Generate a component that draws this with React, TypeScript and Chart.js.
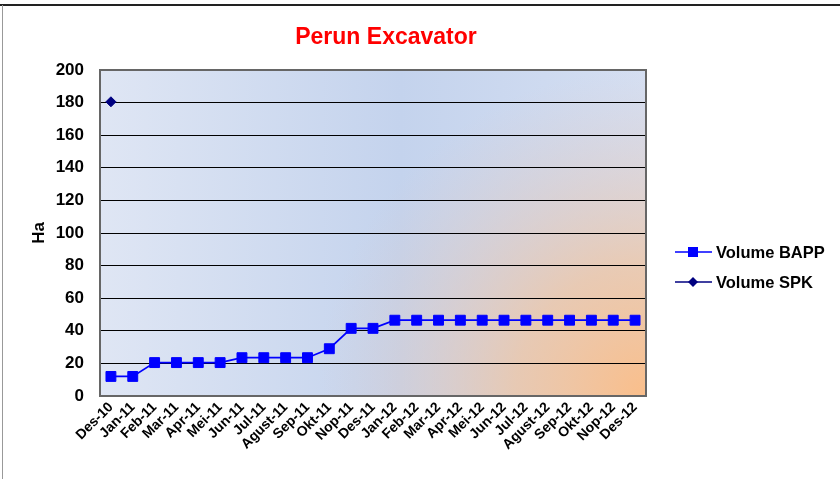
import React, { useEffect, useRef } from "react";
import { Chart, registerables } from "chart.js";

Chart.register(...registerables);

const categories = [
  "Des-10", "Jan-11", "Feb-11", "Mar-11", "Apr-11", "Mei-11", "Jun-11", "Jul-11",
  "Agust-11", "Sep-11", "Okt-11", "Nop-11", "Des-11", "Jan-12", "Feb-12", "Mar-12",
  "Apr-12", "Mei-12", "Jun-12", "Jul-12", "Agust-12", "Sep-12", "Okt-12", "Nop-12", "Des-12",
];

const volumeBAPP = [
  12, 12, 20.5, 20.5, 20.5, 20.5, 23.5, 23.5, 23.5, 23.5, 29, 41.5, 41.5,
  46.5, 46.5, 46.5, 46.5, 46.5, 46.5, 46.5, 46.5, 46.5, 46.5, 46.5, 46.5,
];

const volumeSPK: (number | null)[] = [
  180.5, null, null, null, null, null, null, null, null, null, null, null, null,
  null, null, null, null, null, null, null, null, null, null, null, null,
];

const yTicks = { min: 0, max: 200, step: 20 };
const chartTitle = "Perun Excavator";
const yTitle = "Ha";
const FONT = "'Liberation Sans', Arial, sans-serif";

const decorPlugin = {
  id: "decor",
  beforeDraw(chart: any) {
    const { ctx, chartArea: a } = chart;
    ctx.save();
    ctx.strokeStyle = "#222";
    ctx.lineWidth = 2;
    ctx.beginPath();
    ctx.moveTo(0, 5);
    ctx.lineTo(chart.width, 5);
    ctx.stroke();
    ctx.strokeStyle = "#999";
    ctx.lineWidth = 1;
    ctx.beginPath();
    ctx.moveTo(2.5, 5);
    ctx.lineTo(2.5, chart.height);
    ctx.stroke();
    const w = a.right - a.left;
    const h = a.bottom - a.top;
    const lg = ctx.createLinearGradient(a.left, a.top, a.right, a.top);
    lg.addColorStop(0, "#dfe6f4");
    lg.addColorStop(0.55, "#c4d3ed");
    lg.addColorStop(1, "#d5dff2");
    ctx.fillStyle = lg;
    ctx.fillRect(a.left, a.top, w, h);
    const rg = ctx.createRadialGradient(a.right, a.bottom, 0, a.right, a.bottom, w * 0.6);
    rg.addColorStop(0, "rgba(250,190,138,1)");
    rg.addColorStop(0.4, "rgba(240,196,160,0.75)");
    rg.addColorStop(1, "rgba(220,200,200,0)");
    ctx.fillStyle = rg;
    ctx.fillRect(a.left, a.top, w, h);
    ctx.restore();
  },
  afterDraw(chart: any) {
    const { ctx, chartArea: a } = chart;
    ctx.save();
    ctx.strokeStyle = "#666";
    ctx.lineWidth = 2;
    ctx.strokeRect(a.left, a.top, a.right - a.left, a.bottom - a.top);
    ctx.fillStyle = "#ff0000";
    ctx.font = `bold 23px ${FONT}`;
    ctx.textAlign = "center";
    ctx.textBaseline = "middle";
    ctx.fillText(chartTitle, 386, 38);
    ctx.font = `bold 16.5px ${FONT}`;
    ctx.textAlign = "left";
    chart.data.datasets.forEach((ds: any, i: number) => {
      const y = 252 + i * 30;
      ctx.strokeStyle = ds.borderColor;
      ctx.lineWidth = 1.5;
      ctx.beginPath();
      ctx.moveTo(675, y);
      ctx.lineTo(712, y);
      ctx.stroke();
      ctx.fillStyle = ds.pointBackgroundColor;
      ctx.beginPath();
      if (ds.pointStyle === "rect") {
        ctx.rect(693 - 5, y - 5, 10, 10);
      } else {
        ctx.moveTo(693, y - 5);
        ctx.lineTo(698, y);
        ctx.lineTo(693, y + 5);
        ctx.lineTo(688, y);
        ctx.closePath();
      }
      ctx.fill();
      ctx.fillStyle = "#000";
      ctx.fillText(ds.label, 716, y + 1);
    });
    ctx.restore();
  },
};

export default function App() {
  const ref = useRef<HTMLCanvasElement | null>(null);
  useEffect(() => {
    if (!ref.current) return;
    const chart = new Chart(ref.current, {
      type: "line",
      data: {
        labels: categories,
        datasets: [
          {
            label: "Volume BAPP",
            data: volumeBAPP,
            borderColor: "#0000ff",
            backgroundColor: "#0000ff",
            pointBackgroundColor: "#0000ff",
            pointBorderColor: "#0000ff",
            pointStyle: "rect",
            pointRadius: 7,
            pointBorderWidth: 1,
            borderWidth: 1.75,
            tension: 0,
          },
          {
            label: "Volume SPK",
            data: volumeSPK,
            borderColor: "#000080",
            backgroundColor: "#000080",
            pointBackgroundColor: "#000080",
            pointBorderColor: "#000080",
            pointStyle: "rectRot",
            pointRadius: 5,
            pointBorderWidth: 1,
            borderWidth: 1.5,
            tension: 0,
          },
        ] as any,
      },
      options: {
        animation: false,
        responsive: false,
        layout: { padding: { top: 70, left: 29, right: 194, bottom: 0 } },
        plugins: {
          legend: { display: false },
          title: { display: false },
          tooltip: { enabled: false },
        },
        scales: {
          x: {
            offset: true,
            grid: { display: false, drawTicks: false },
            border: { display: false },
            ticks: {
              color: "#000",
              font: { family: FONT, size: 14, weight: "bold" },
              minRotation: 45,
              maxRotation: 45,
              autoSkip: false,
              padding: 3,
            },
            afterFit: (s: any) => {
              s.height = 83;
            },
          },
          y: {
            min: yTicks.min,
            max: yTicks.max,
            grid: { color: "#000", lineWidth: 1, drawTicks: false },
            border: { display: false },
            ticks: {
              stepSize: yTicks.step,
              color: "#000",
              padding: 16,
              font: { family: FONT, size: 17, weight: "bold" },
            },
            title: {
              display: true,
              text: yTitle,
              color: "#000",
              padding: 0,
              font: { family: FONT, size: 17, weight: "bold" },
            },
            afterFit: (s: any) => {
              s.width = 71;
            },
          },
        },
      },
      plugins: [decorPlugin],
    });
    return () => chart.destroy();
  }, []);
  return (
    <div style={{ position: "absolute", left: 0, top: 0, width: 840, height: 479, background: "#fff" }}>
      <canvas ref={ref} width={840} height={479} style={{ width: 840, height: 479 }} />
    </div>
  );
}
